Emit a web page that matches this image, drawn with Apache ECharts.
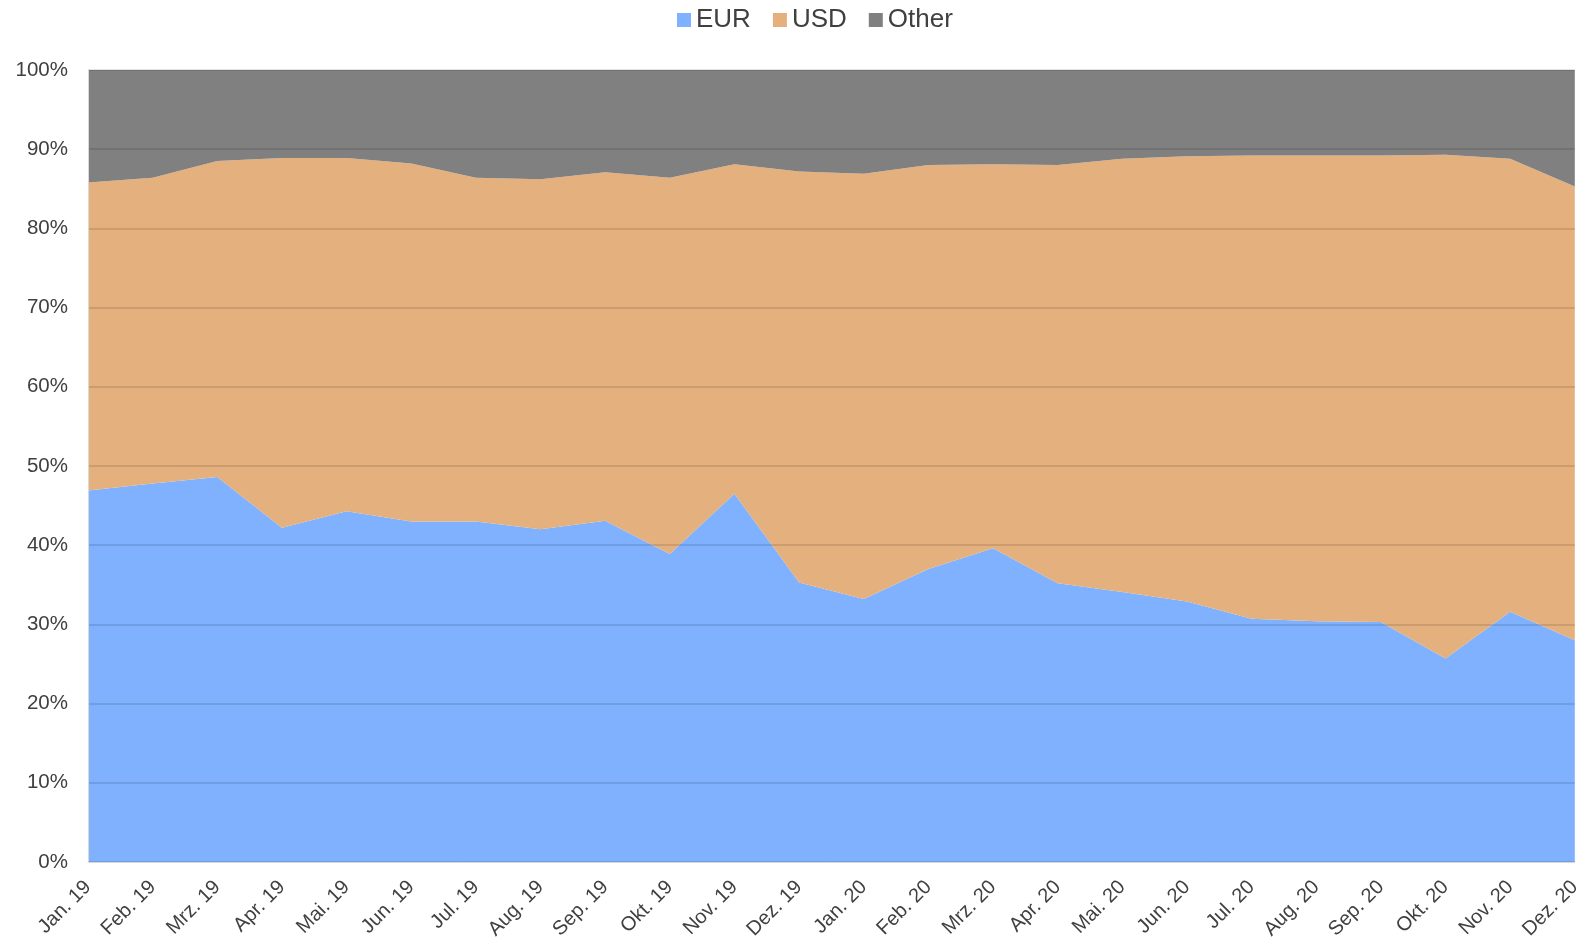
<!DOCTYPE html>
<html>
<head>
<meta charset="utf-8">
<script src="https://cdn.jsdelivr.net/npm/echarts@6/dist/echarts.min.js"></script>
<style>
html,body{margin:0;padding:0;background:#fff;}
#chart{width:1584px;height:943px;}
</style>
</head>
<body>
<div id="chart"></div>
<script>
const categories = ['Jan. 19','Feb. 19','Mrz. 19','Apr. 19','Mai. 19','Jun. 19','Jul. 19','Aug. 19','Sep. 19','Okt. 19','Nov. 19','Dez. 19',
  'Jan. 20','Feb. 20','Mrz. 20','Apr. 20','Mai. 20','Jun. 20','Jul. 20','Aug. 20','Sep. 20','Okt. 20','Nov. 20','Dez. 20'];
const eur   = [46.9,47.8,48.6,42.2,44.3,43.0,43.0,42.0,43.1,38.9,46.5,35.3, 33.2,37.0,39.6,35.2,34.1,32.9,30.7,30.4,30.3,25.7,31.6,28.0];
const usd   = [38.9,38.6,39.9,46.7,44.6,45.2,43.4,44.2,44.0,47.5,41.6,51.9, 53.7,51.0,48.5,52.8,54.7,56.2,58.5,58.8,58.9,63.6,57.2,57.3];
const other = [14.2,13.6,11.5,11.1,11.1,11.8,13.6,13.8,12.9,13.6,11.9,12.8, 13.1,12.0,11.9,12.0,11.2,10.9,10.8,10.8,10.8,10.7,11.2,14.7];
const seriesNames = ['EUR','USD','Other'];
const seriesColors = ['#7fb1fe','#e3b07e','#808080'];

const font = '"Liberation Sans", Arial, sans-serif';
const chart = echarts.init(document.getElementById('chart'), null, {renderer:'canvas'});
const dataSets = [eur, usd, other];
chart.setOption({
  animation: false,
  backgroundColor: '#ffffff',
  textStyle: {fontFamily: font},
  legend: {
    data: seriesNames,
    top: 2,
    left: 672,
    itemWidth: 14,
    itemHeight: 14,
    itemGap: 22,
    icon: 'rect',
    textStyle: {fontSize: 26, color: '#404040', fontFamily: font}
  },
  grid: {left: 88, right: 7, top: 70, bottom: 81, containLabel: false},
  xAxis: {
    type: 'category',
    data: categories,
    boundaryGap: false,
    axisLine: {show: true, lineStyle: {color: '#d9d9d9', width: 1}},
    axisTick: {show: false},
    axisLabel: {rotate: 45, fontSize: 20, color: '#404040', margin: 22, interval: 0, fontFamily: font},
    splitLine: {show: false},
    z: 5
  },
  yAxis: {
    type: 'value',
    min: 0, max: 100, interval: 10,
    axisLine: {show: true, lineStyle: {color: '#d9d9d9'}},
    axisTick: {show: false},
    axisLabel: {formatter: '{value}%', fontSize: 20.5, color: '#404040', margin: 20, fontFamily: font},
    splitLine: {show: true, lineStyle: {color: 'rgba(0,0,0,0.15)', width: 1.5}},
    z: 5
  },
  series: seriesNames.map((name, i) => ({
    name: name,
    type: 'line',
    stack: 'total',
    data: dataSets[i],
    symbol: 'none',
    showSymbol: false,
    lineStyle: {width: 0},
    areaStyle: {color: seriesColors[i], opacity: 1},
    itemStyle: {color: seriesColors[i]},
    z: 2
  }))
});
</script>
</body>
</html>
